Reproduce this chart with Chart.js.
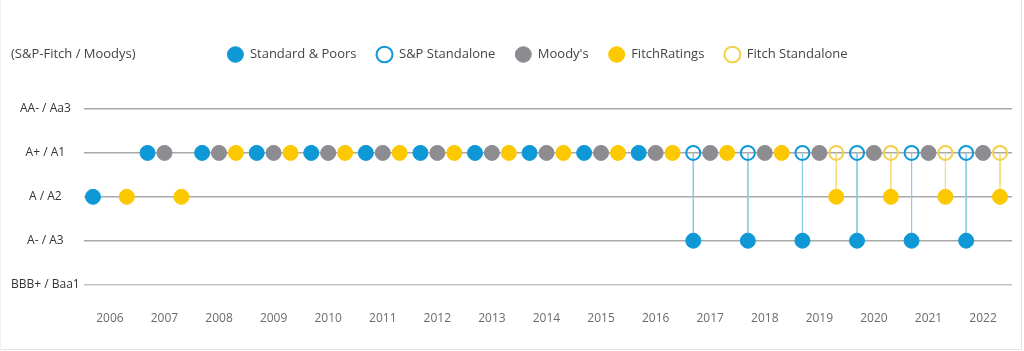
<!DOCTYPE html>
<html>
<head>
<meta charset="utf-8">
<script src="https://cdn.jsdelivr.net/npm/chart.js@4.4.1/dist/chart.umd.min.js"></script>
<style>
  html, body { margin: 0; padding: 0; background: #fff; }
  #wrap {
    position: relative;
    width: 1020px;
    height: 349px;
    border-left: 1px solid #f0f0f0;
    border-right: 1px solid #e4e4e4;
    border-bottom: 1px solid #e4e4e4;
  }
</style>
</head>
<body>
<div id="wrap"><canvas id="ratingsChart"></canvas></div>
<script>
// Rating history, one entry per year (null = no rating shown)
const years = [2006, 2007, 2008, 2009, 2010, 2011, 2012, 2013, 2014, 2015, 2016, 2017, 2018, 2019, 2020, 2021, 2022];
const spRatings = ['A', 'A+', 'A+', 'A+', 'A+', 'A+', 'A+', 'A+', 'A+', 'A+', 'A+', 'A-', 'A-', 'A-', 'A-', 'A-', 'A-'];
const spStandalone = [null, null, null, null, null, null, null, null, null, null, null, 'A+', 'A+', 'A+', 'A+', 'A+', 'A+'];
const moodysRatings = [null, 'A1', 'A1', 'A1', 'A1', 'A1', 'A1', 'A1', 'A1', 'A1', 'A1', 'A1', 'A1', 'A1', 'A1', 'A1', 'A1'];
const fitchRatings = ['A', 'A', 'A+', 'A+', 'A+', 'A+', 'A+', 'A+', 'A+', 'A+', 'A+', 'A+', 'A+', 'A', 'A', 'A', 'A'];
const fitchStandalone = [null, null, null, null, null, null, null, null, null, null, null, null, null, 'A+', 'A+', 'A+', 'A+'];

// Rating scale, bottom to top
const spFitchScale = ['BBB+', 'A-', 'A', 'A+', 'AA-'];
const moodysScale = ['Baa1', 'A3', 'A2', 'A1', 'Aa3'];
const levelLabels = ['BBB+ / Baa1', 'A- / A3', 'A / A2', 'A+ / A1', 'AA- / Aa3'];

const BLUE = '#0f98d6';
const GRAY = '#8d8d91';
const YELLOW = '#fcc800';
const YELLOW_LINE = '#f2d048';

// each agency sits a little left / right of the year mark
const spShift = -0.31, fitchShift = 0.31;

function toPoints(ratings, scale, shift) {
  const pts = [];
  ratings.forEach((r, i) => {
    if (r) pts.push({ x: years[i] + shift, y: scale.indexOf(r) });
  });
  return pts;
}

// vertical links between standalone and final rating
function toLinks(standalone, ratings, scale, shift) {
  const pts = [];
  standalone.forEach((s, i) => {
    if (s && ratings[i] && s !== ratings[i]) {
      pts.push({ x: years[i] + shift, y: scale.indexOf(s) });
      pts.push({ x: years[i] + shift, y: scale.indexOf(ratings[i]) });
      pts.push({ x: years[i] + shift, y: null });
    }
  });
  return pts;
}

const filledPoint = (color) => ({
  backgroundColor: color,
  borderColor: color,
  borderWidth: 1,
  pointRadius: 7.5,
  pointHoverRadius: 7.5,
  showLine: false,
  order: 1
});
const openPoint = (color) => ({
  backgroundColor: 'rgba(255,255,255,0)',
  borderColor: color,
  borderWidth: 2,
  pointRadius: 7,
  pointHoverRadius: 7,
  showLine: false,
  order: 1
});

// give the legend some room below it
const legendSpacing = {
  id: 'legendSpacing',
  beforeInit(chart) {
    const fit = chart.legend.fit;
    chart.legend.fit = function () {
      fit.bind(chart.legend)();
      this.height += 38;
    };
  },
  afterLayout(chart) {
    // legend row sits a bit right of centre, after the scale note
    chart.legend.left += 48;
  }
};

// "(S&P-Fitch / Moodys)" note left of the legend
const scaleNote = {
  id: 'scaleNote',
  afterDraw(chart) {
    const boxes = chart.legend.legendHitBoxes;
    if (!boxes || !boxes.length) return;
    const y = boxes[0].top + boxes[0].height / 2;
    const ctx = chart.ctx;
    ctx.save();
    ctx.font = '13px "Open Sans", sans-serif';
    ctx.fillStyle = '#444';
    ctx.textAlign = 'left';
    ctx.textBaseline = 'middle';
    ctx.fillText('(S&P-Fitch / Moodys)', 10, y);
    ctx.restore();
  }
};

const ctx = document.getElementById('ratingsChart').getContext('2d');
const ratingsChart = new Chart(ctx, {
  type: 'scatter',
  data: {
    datasets: [
      Object.assign({ label: 'Standard & Poors', data: toPoints(spRatings, spFitchScale, spShift) }, filledPoint(BLUE)),
      Object.assign({ label: 'S&P Standalone', data: toPoints(spStandalone, spFitchScale, spShift) }, openPoint(BLUE)),
      Object.assign({ label: "Moody's", data: toPoints(moodysRatings, moodysScale, 0) }, filledPoint(GRAY)),
      Object.assign({ label: 'FitchRatings', data: toPoints(fitchRatings, spFitchScale, fitchShift) }, filledPoint(YELLOW)),
      Object.assign({ label: 'Fitch Standalone', data: toPoints(fitchStandalone, spFitchScale, fitchShift) }, openPoint(YELLOW_LINE)),
      {
        label: '',
        data: toLinks(spStandalone, spRatings, spFitchScale, spShift),
        showLine: true,
        spanGaps: false,
        borderColor: '#8ccbe8',
        borderWidth: 1,
        pointRadius: 0,
        order: 10
      },
      {
        label: '',
        data: toLinks(fitchStandalone, fitchRatings, spFitchScale, fitchShift),
        showLine: true,
        spanGaps: false,
        borderColor: '#f5dc7c',
        borderWidth: 1,
        pointRadius: 0,
        order: 10
      }
    ]
  },
  options: {
    responsive: true,
    maintainAspectRatio: false,
    animation: false,
    clip: false,
    layout: { padding: { left: 6, right: 1, top: 28, bottom: -4 } },
    plugins: {
      tooltip: { enabled: false },
      title: { display: false },
      legend: {
        position: 'top',
        align: 'center',
        labels: {
          usePointStyle: true,
          pointStyle: 'circle',
          boxHeight: 11,
          pointStyleWidth: 16,
          padding: 20,
          color: '#444',
          font: { family: '"Open Sans", sans-serif', size: 13 },
          filter: item => item.text !== ''
        }
      }
    },
    scales: {
      x: {
        type: 'linear',
        min: 2005.52,
        max: 2022.53,
        grid: { display: false, drawTicks: false },
        border: { display: false },
        afterBuildTicks: scale => { scale.ticks = years.map(v => ({ value: v })); },
        afterFit: scale => { scale.paddingLeft = 0; scale.paddingRight = 0; },
        ticks: {
          padding: 27,
          maxRotation: 0,
          color: '#6b6b6b',
          font: { family: '"Open Sans", sans-serif', size: 12 },
          callback: v => String(v)
        }
      },
      y: {
        type: 'linear',
        min: 0,
        max: 4,
        border: { display: false },
        grid: {
          drawTicks: false,
          lineWidth: 1.5,
          color: c => (c.index === 0 ? '#c6c6c6' : '#a9a9a9')
        },
        afterBuildTicks: scale => { scale.ticks = levelLabels.map((_, i) => ({ value: i })); },
        ticks: {
          crossAlign: 'center',
          padding: 4,
          color: '#333',
          font: { family: '"Open Sans", sans-serif', size: 12 },
          callback: v => levelLabels[v]
        }
      }
    }
  },
  plugins: [legendSpacing, scaleNote]
});
</script>
</body>
</html>
